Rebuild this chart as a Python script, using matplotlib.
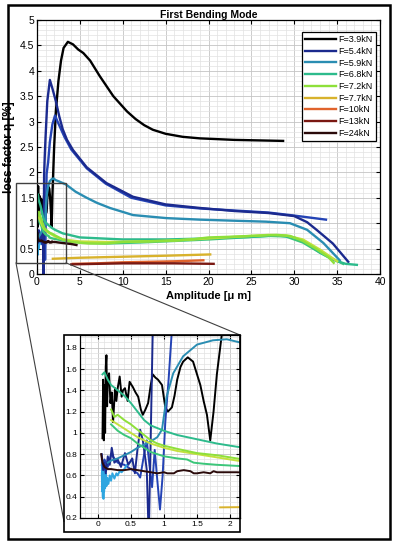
import matplotlib.pyplot as plt
from matplotlib.patches import Rectangle, ConnectionPatch
from matplotlib.ticker import MultipleLocator, FormatStrFormatter

plt.rcParams['font.family'] = ['Liberation Sans', 'DejaVu Sans']

# ---- data (amplitude in um, loss factor in %) ----
x39 = [0.07, 0.08, 0.09, 0.10, 0.11, 0.12, 0.13, 0.14, 0.15, 0.17, 0.19, 0.21, 0.23, 0.26, 0.28, 0.30,
       0.33, 0.36, 0.38, 0.41, 0.45, 0.48, 0.53, 0.57, 0.61, 0.65, 0.68, 0.72, 0.76, 0.80, 0.83, 0.87,
       0.91, 0.97, 1.02, 1.06, 1.12, 1.16, 1.20, 1.25, 1.29, 1.36, 1.44, 1.50, 1.55, 1.60, 1.65, 1.70,
       1.75, 1.80, 1.88, 2.0, 2.2, 2.5, 2.8, 3.1, 3.6, 4.2, 4.8, 5.4, 6.2, 7.3, 8.9, 10.5, 11.5, 12.5,
       13.5, 15.0, 17.0, 19.0, 23.0, 28.7]
y39 = [0.95, 1.50, 0.93, 1.45, 1.00, 1.62, 1.73, 1.25, 1.50, 1.56, 1.28, 1.38, 1.10, 1.42, 1.30, 1.42,
       1.53, 1.34, 1.40, 1.42, 1.30, 1.48, 1.43, 1.38, 1.34, 1.22, 1.17, 1.22, 1.28, 1.45, 1.55, 1.52,
       1.50, 1.45, 1.24, 1.20, 1.24, 1.35, 1.50, 1.62, 1.67, 1.71, 1.67, 1.55, 1.45, 1.30, 1.17, 0.93,
       1.20, 1.55, 1.95, 2.50, 3.20, 3.80, 4.20, 4.45, 4.57, 4.52, 4.42, 4.35, 4.20, 3.90, 3.50, 3.20,
       3.05, 2.93, 2.84, 2.76, 2.70, 2.67, 2.64, 2.62]

x54 = [0.06, 0.08, 0.10, 0.12, 0.15, 0.18, 0.21, 0.25, 0.30, 0.35, 0.41, 0.46, 0.52, 0.56, 0.60, 0.64,
       0.68, 0.72, 0.74, 0.77, 0.83, 0.9, 1.0, 1.2, 1.5, 1.8, 2.2, 2.6, 3.0, 3.5, 4.2, 5.8, 8.1, 11.2,
       15.0, 19.0, 23.0, 27.0, 30.0, 31.5, 32.6, 34.5, 36.3]
y54 = [0.80, 0.65, 0.72, 0.62, 0.78, 0.70, 0.86, 0.72, 0.75, 0.68, 0.81, 0.70, 0.76, 0.62, 0.85, 1.03,
       0.93, 0.75, 0.65, 0.00, 1.95, 2.30, 2.70, 3.40, 3.82, 3.65, 3.40, 3.10, 2.85, 2.64, 2.44, 2.10,
       1.79, 1.52, 1.37, 1.30, 1.24, 1.20, 1.14, 1.02, 0.87, 0.60, 0.24]

# second blue run (no legend entry)
x54b = [0.06, 0.10, 0.15, 0.20, 0.30, 0.40, 0.50, 0.60, 0.64, 0.70, 0.74, 0.78, 0.82, 0.86, 0.90, 0.94,
        0.98, 1.02, 1.07, 1.12, 1.3, 1.5, 1.8, 2.1, 2.4, 2.8, 3.2, 4.0, 5.8, 8.0, 11.0, 15.0, 19.0,
        23.0, 27.0, 30.0, 33.7]
y54b = [0.70, 0.75, 0.68, 0.80, 0.72, 0.70, 0.66, 0.62, 0.58, 0.80, 0.93, 0.70, 0.49, 0.84, 0.55, 0.28,
        0.60, 1.10, 1.50, 1.97, 2.20, 2.60, 2.95, 3.12, 3.00, 2.85, 2.70, 2.45, 2.08, 1.78, 1.50, 1.35,
        1.29, 1.25, 1.21, 1.15, 1.07]

# light blue noisy start (no legend entry)
xcy = [0.06, 0.065, 0.07, 0.075, 0.08, 0.085, 0.09, 0.095, 0.10, 0.11, 0.12, 0.13, 0.14, 0.16, 0.18,
       0.20, 0.22, 0.25, 0.28, 0.30, 0.33, 0.36, 0.40, 0.44, 0.48, 0.52]
ycy = [0.62, 0.45, 0.72, 0.40, 0.58, 0.38, 0.66, 0.45, 0.60, 0.48, 0.62, 0.50, 0.58, 0.52, 0.60,
       0.55, 0.62, 0.57, 0.62, 0.60, 0.64, 0.63, 0.66, 0.70, 0.72, 0.75]

x59 = [0.15, 0.2, 0.3, 0.4, 0.5, 0.6, 0.7, 0.8, 0.9, 0.97, 1.04, 1.14, 1.29, 1.5, 1.74, 1.95, 2.15,
       2.6, 3.4, 4.5, 5.8, 7.0, 8.5, 11.2, 15.1, 19.0, 22.8, 26.7, 29.5, 31.5, 33.4, 35.3]
y59 = [0.72, 0.74, 0.76, 0.79, 0.82, 0.86, 0.89, 0.92, 0.96, 1.03, 1.34, 1.56, 1.72, 1.83, 1.87, 1.88,
       1.85, 1.82, 1.76, 1.62, 1.50, 1.40, 1.30, 1.16, 1.10, 1.07, 1.05, 1.03, 1.00, 0.87, 0.61, 0.27]

x68 = [0.07, 0.1, 0.15, 0.2, 0.3, 0.4, 0.5, 0.6, 0.7, 0.8, 1.0, 1.2, 1.5, 1.8, 2.1, 3.0, 5.0, 7.5,
       10, 15, 20, 25, 28, 30, 31.5, 33, 34.5, 36, 37.3]
y68 = [1.55, 1.57, 1.50, 1.45, 1.40, 1.35, 1.28, 1.20, 1.12, 1.07, 1.02, 0.98, 0.94, 0.90, 0.87, 0.80,
       0.72, 0.70, 0.68, 0.68, 0.70, 0.73, 0.76, 0.72, 0.60, 0.42, 0.28, 0.20, 0.18]

x72 = [0.2, 0.25, 0.3, 0.4, 0.5, 0.6, 0.7, 0.8, 0.9, 1.0, 1.2, 1.5, 1.8, 2.1, 3.0, 4.0, 6.0, 8.0, 10,
       12, 15, 18, 20, 22, 25, 28, 29.5, 31, 32.5, 34, 34.6]
y72 = [1.22, 1.15, 1.17, 1.12, 1.08, 1.03, 0.98, 0.93, 0.90, 0.88, 0.85, 0.81, 0.79, 0.76, 0.68, 0.63,
       0.60, 0.60, 0.63, 0.64, 0.65, 0.68, 0.72, 0.73, 0.75, 0.77, 0.75, 0.65, 0.50, 0.33, 0.22]

# extra green runs (no legend entry)
xyg = [0.2, 0.3, 0.4, 0.5, 0.6, 0.7, 0.8, 1.0, 1.2, 1.5, 1.8, 2.1, 3.0, 5.0, 8.0, 12, 16, 20, 24, 27,
       29, 31, 33, 35]
yyg = [1.12, 1.08, 1.04, 1.00, 0.96, 0.93, 0.90, 0.86, 0.83, 0.80, 0.77, 0.74, 0.68, 0.64, 0.63, 0.64,
       0.66, 0.70, 0.74, 0.77, 0.76, 0.68, 0.48, 0.25]
xgr = [0.2, 0.3, 0.4, 0.5, 0.6, 0.7, 0.8, 0.9, 1.0, 1.2, 1.35, 1.45, 1.6, 1.8, 2.1, 3.0, 5, 8, 12, 16,
       20, 24, 27, 29, 31, 33, 35.7]
ygr = [1.08, 1.02, 0.98, 0.95, 0.90, 0.86, 0.82, 0.80, 0.78, 0.76, 0.75, 0.72, 0.71, 0.70, 0.69, 0.66,
       0.62, 0.60, 0.62, 0.65, 0.68, 0.72, 0.75, 0.74, 0.62, 0.42, 0.20]

x77 = [1.85, 5, 10, 15, 20.2]
y77 = [0.30, 0.32, 0.34, 0.36, 0.385]
x10 = [4.2, 7, 10, 13, 16, 19.4]
y10 = [0.20, 0.21, 0.23, 0.24, 0.25, 0.27]
x13 = [4.0, 7, 10, 13, 16, 20.6]
y13 = [0.19, 0.20, 0.21, 0.21, 0.21, 0.20]
x24 = [0.05, 0.07, 0.1, 0.15, 0.2, 0.3, 0.4, 0.5, 0.6, 0.7, 0.8, 0.9, 1.0, 1.05, 1.15, 1.2, 1.3, 1.4,
       1.45, 1.5, 1.6, 1.7, 1.75, 1.8, 1.9, 2.1, 2.5, 3.0, 3.5, 4.0, 4.6]
y24 = [0.80, 0.72, 0.68, 0.66, 0.66, 0.65, 0.65, 0.66, 0.65, 0.64, 0.63, 0.62, 0.63, 0.62, 0.62, 0.64,
       0.65, 0.64, 0.62, 0.62, 0.63, 0.62, 0.64, 0.63, 0.63, 0.63, 0.62, 0.61, 0.60, 0.59, 0.57]

series = [
    (x39, y39, '#000000', 'F=3.9kN'),
    (x54b, y54b, '#2443b5', None),
    (xcy, ycy, '#2fa6e0', None),
    (x54, y54, '#1b2a8e', 'F=5.4kN'),
    (x59, y59, '#2a8db2', 'F=5.9kN'),
    (xgr, ygr, '#3cc67a', None),
    (x68, y68, '#2dbb8c', 'F=6.8kN'),
    (xyg, yyg, '#c2e03e', None),
    (x72, y72, '#8ee03a', 'F=7.2kN'),
    (x77, y77, '#d8b22c', 'F=7.7kN'),
    (x10, y10, '#e0632c', 'F=10kN'),
    (x13, y13, '#7a1812', 'F=13kN'),
    (x24, y24, '#2a0a0a', 'F=24kN'),
]
legend_order = ['F=3.9kN', 'F=5.4kN', 'F=5.9kN', 'F=6.8kN', 'F=7.2kN',
                'F=7.7kN', 'F=10kN', 'F=13kN', 'F=24kN']

fig = plt.figure(figsize=(3.98, 5.5), dpi=100)
ax = fig.add_axes([37 / 398, 276 / 550, 343 / 398, 254 / 550])
axi = fig.add_axes([80 / 398, 32 / 550, 160 / 398, 183 / 550])

handles = {}
for x, y, c, lab in series:
    ln, = ax.plot(x, y, color=c, lw=1.7)
    axi.plot(x, y, color=c, lw=1.4)
    if lab:
        handles[lab] = ln


def style(a, xmaj, xmin, ymaj, ymin, fs):
    a.xaxis.set_major_locator(MultipleLocator(xmaj))
    a.xaxis.set_minor_locator(MultipleLocator(xmin))
    a.yaxis.set_major_locator(MultipleLocator(ymaj))
    a.yaxis.set_minor_locator(MultipleLocator(ymin))
    a.xaxis.set_major_formatter(FormatStrFormatter('%g'))
    a.yaxis.set_major_formatter(FormatStrFormatter('%g'))
    a.grid(which='major', color='#c4c4c4', lw=0.6)
    a.grid(which='minor', color='#e2e2e2', lw=0.5)
    a.set_axisbelow(True)
    a.tick_params(which='both', direction='in', top=True, right=True, labelsize=fs, pad=2)
    a.tick_params(which='major', length=3)
    a.tick_params(which='minor', length=0)
    for s in a.spines.values():
        s.set_linewidth(0.9)


style(ax, 5, 1, 0.5, 0.1, 7.5)
ax.set_xlim(0, 40)
ax.set_ylim(0, 5)
ax.set_title('First Bending Mode', fontsize=7.5, fontweight='bold', pad=1.5)
ax.set_xlabel('Amplitude [μ m]', fontsize=8, fontweight='bold', labelpad=3)
ax.set_ylabel('loss factor η [%]', fontsize=8.5, fontweight='bold')
ax.yaxis.set_label_coords(-0.063, 0.5)

ax.legend([handles[k] for k in legend_order], legend_order, loc='upper left',
          bbox_to_anchor=((302 - 37) / 343, (274 - 32) / 254), bbox_transform=ax.transAxes,
          borderaxespad=0, fontsize=6.5, fancybox=False, framealpha=1, edgecolor='black',
          handlelength=3.4, handletextpad=0.3, labelspacing=0.3, borderpad=0.35)
ax.get_legend().get_frame().set_linewidth(0.9)

style(axi, 0.5, 0.1, 0.2, 0.05, 6)
axi.set_xlim(-0.27, 2.15)
axi.set_ylim(0.2, 1.92)

# zoom box in the main axes and its leader lines to the inset
zx0, zx1, zy0, zy1 = -2.45, 3.38, 0.22, 1.79
ax.add_patch(Rectangle((zx0, zy0), zx1 - zx0, zy1 - zy0, fill=False, ec='#404040',
                       lw=1.0, clip_on=False, zorder=5))
for pa, pb in [((zx0, zy0), (-0.1, -0.02)), ((zx1, zy0), (1.0, 1.0))]:
    fig.add_artist(ConnectionPatch(xyA=pa, coordsA=ax.transData, xyB=pb, coordsB=axi.transAxes,
                                   color='#404040', lw=0.8))

# frame around the inset picture and around the whole figure
fig.add_artist(Rectangle((64 / 398, 18 / 550), 176 / 398, 197 / 550, fill=False, ec='black',
                         lw=1.2, transform=fig.transFigure))
fig.add_artist(Rectangle((8 / 398, 11 / 550), 382 / 398, 534 / 550, fill=False, ec='black',
                         lw=1.8, transform=fig.transFigure))

fig.savefig('out.png', dpi=100)
